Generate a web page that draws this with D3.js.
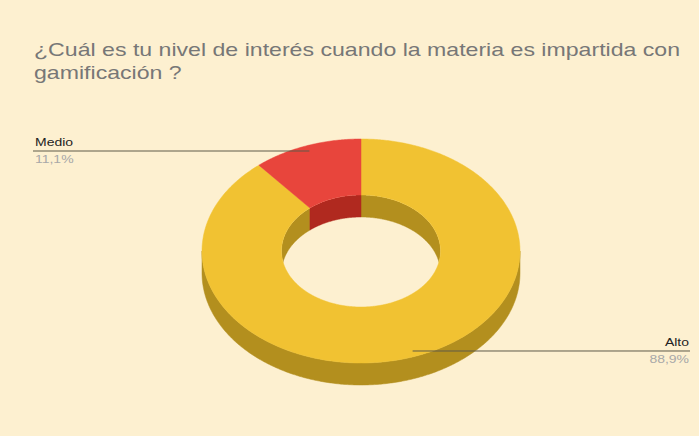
<!DOCTYPE html>
<html>
<head>
<meta charset="utf-8">
<script src="https://cdn.jsdelivr.net/npm/d3@7"></script>
<style>
  html, body { margin: 0; padding: 0; background: #fdf0d0; }
  svg { display: block; font-family: "Liberation Sans", Arial, sans-serif; }
</style>
</head>
<body>
<svg id="chart" width="699" height="436"></svg>
<script>
// Survey answers and their shares (%)
const categories = ["Alto", "Medio"];
const values = [88.9, 11.1];
const colors = ["#f1c232", "#e8453c"];
const sideColors = ["#b38f1e", "#b0291f"];
const titleLines = [
  "¿Cuál es tu nivel de interés cuando la materia es impartida con",
  "gamificación ?"
];

const W = 699, H = 436;
const stretch = 1.27; // text is drawn horizontally widened
const svg = d3.select("#chart");
svg.append("rect").attr("width", W).attr("height", H).attr("fill", "#fdf0d0");

// Title
titleLines.forEach((t, i) => {
  svg.append("text")
    .attr("transform", `translate(34,${56 + i * 23}) scale(${stretch},1)`)
    .attr("fill", "#777")
    .attr("font-size", 18.2)
    .text(t);
});

// Tilted donut geometry: unit circle mapped onto an ellipse
const cx = 361, cy = 251, rx = 159, ry = 112, depth = 22, hole = 0.5;
const xs = d3.scaleLinear().domain([-1, 1]).range([cx - rx, cx + rx]);
const ys = d3.scaleLinear().domain([-1, 1]).range([cy - ry, cy + ry]);

// angle measured clockwise from 12 o'clock
const pt = (a, r, dz = 0) => [xs(r * Math.sin(a)), ys(-r * Math.cos(a)) + dz];

function arcPts(a0, a1, r, dz) {
  const n = Math.max(2, Math.ceil(Math.abs(a1 - a0) / 0.01));
  return d3.range(n + 1).map(i => pt(a0 + (a1 - a0) * i / n, r, dz));
}
const line = d3.line();

const pie = d3.pie().sort(null).value(d => d).startAngle(0).endAngle(2 * Math.PI);
const slices = pie(values).map((s, i) => ({ ...s, i }));

function clipRange(s, lo, hi) {
  const a = Math.max(s.startAngle, lo), b = Math.min(s.endAngle, hi);
  return a < b ? [a, b] : null;
}

// Outer wall (front half: 90°..270°)
const gOuter = svg.append("g");
slices.forEach(s => {
  const r = clipRange(s, Math.PI / 2, 3 * Math.PI / 2);
  if (!r) return;
  const pts = arcPts(r[0], r[1], 1, 0).concat(arcPts(r[1], r[0], 1, depth));
  gOuter.append("path").attr("d", line(pts) + "Z")
    .attr("fill", sideColors[s.i]).attr("stroke", sideColors[s.i]).attr("stroke-width", 0.5);
});

// Inner wall (back half of the hole), clipped to the hole opening
const defs = svg.append("defs");
defs.append("clipPath").attr("id", "holeClip")
  .append("path").attr("d", line(arcPts(0, 2 * Math.PI, hole, 0)) + "Z");
const gInner = svg.append("g").attr("clip-path", "url(#holeClip)");
slices.forEach(s => {
  [[-Math.PI / 2, Math.PI / 2], [3 * Math.PI / 2, 5 * Math.PI / 2]].forEach(([lo, hi]) => {
    const r = clipRange(s, lo, hi);
    if (!r) return;
    const pts = arcPts(r[0], r[1], hole, 0).concat(arcPts(r[1], r[0], hole, depth));
    gInner.append("path").attr("d", line(pts) + "Z")
      .attr("fill", sideColors[s.i]).attr("stroke", sideColors[s.i]).attr("stroke-width", 0.5);
  });
});

// Top surface
const gTop = svg.append("g");
slices.forEach(s => {
  const pts = arcPts(s.startAngle, s.endAngle, 1, 0)
    .concat(arcPts(s.endAngle, s.startAngle, hole, 0));
  gTop.append("path").attr("d", line(pts) + "Z")
    .attr("fill", colors[s.i]).attr("stroke", colors[s.i]).attr("stroke-width", 0.5);
});

// Leader lines and labels
const fmt = v => d3.format(".1f")(v).replace(".", ",") + "%";
slices.forEach(s => {
  const mid = (s.startAngle + s.endAngle) / 2;
  const [px, py] = pt(mid, 0.95, 0);
  const left = Math.sin(mid) < 0;
  const x2 = left ? 33 : 690;
  const anchor = left ? "start" : "end";
  const tx = left ? 35 : 689;
  svg.append("line")
    .attr("x1", px).attr("y1", py).attr("x2", x2).attr("y2", py)
    .attr("stroke", "#5e5a48").attr("stroke-width", 1);
  svg.append("text")
    .attr("transform", `translate(${tx},${py - 5}) scale(${stretch},1)`)
    .attr("text-anchor", anchor).attr("font-size", 11).attr("fill", "#222")
    .text(categories[s.i]);
  svg.append("text")
    .attr("transform", `translate(${tx},${py + 12}) scale(${stretch},1)`)
    .attr("text-anchor", anchor).attr("font-size", 11).attr("fill", "#a8a8a8")
    .text(fmt(values[s.i]));
});
</script>
</body>
</html>
